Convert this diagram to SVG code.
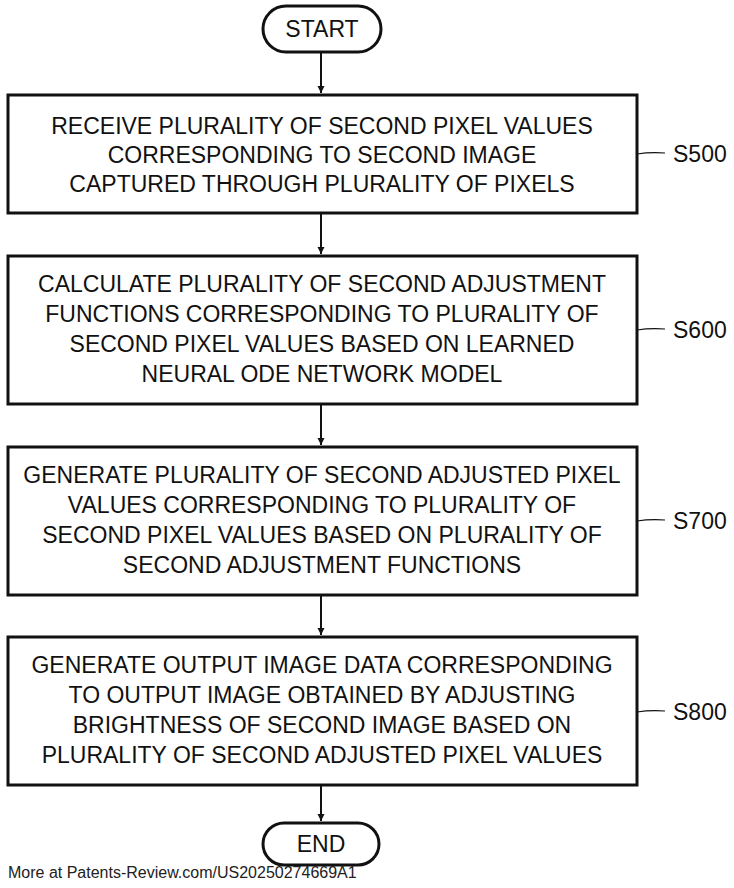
<svg xmlns="http://www.w3.org/2000/svg" width="734" height="888" viewBox="0 0 734 888">
<style>
.b{fill:#fff;stroke:#111;stroke-width:3}
.t{font-family:"Liberation Sans",Arial,sans-serif;font-size:23px;fill:#111;text-anchor:middle}
.l{font-family:"Liberation Sans",Arial,sans-serif;font-size:23px;fill:#111}
.c{stroke:#111;stroke-width:2;fill:none}
.k{stroke:#111;stroke-width:1.2;fill:none}
</style>
<defs><marker id="a" viewBox="0 0 10 10" refX="10" refY="5" markerWidth="7" markerHeight="9" orient="auto" markerUnits="userSpaceOnUse"><path d="M0,0 L10,5 L0,10 z" fill="#111"/></marker></defs>
<rect width="734" height="888" fill="#fff"/>
<g id="connectors">
<line class="c" x1="321" y1="52" x2="321" y2="93" marker-end="url(#a)"/>
<line class="c" x1="321" y1="213" x2="321" y2="254" marker-end="url(#a)"/>
<line class="c" x1="321" y1="404" x2="321" y2="445" marker-end="url(#a)"/>
<line class="c" x1="321" y1="595" x2="321" y2="635" marker-end="url(#a)"/>
<line class="c" x1="321" y1="785" x2="321" y2="821" marker-end="url(#a)"/>
</g>
<g id="start"><rect class="b" x="263" y="6" width="118" height="46" rx="23"/><text class="t" x="322" y="37">START</text></g>
<g id="s500"><rect class="b" x="8" y="95" width="629" height="118"/>
<text class="t" x="322" y="134">RECEIVE PLURALITY OF SECOND PIXEL VALUES</text>
<text class="t" x="322" y="163">CORRESPONDING TO SECOND IMAGE</text>
<text class="t" x="322" y="192">CAPTURED THROUGH PLURALITY OF PIXELS</text>
<path class="k" d="M637,154 Q650,152 665,153"/><text class="l" x="673" y="162">S500</text></g>
<g id="s600"><rect class="b" x="8" y="256" width="629" height="148"/>
<text class="t" x="322" y="292">CALCULATE PLURALITY OF SECOND ADJUSTMENT</text>
<text class="t" x="322" y="322">FUNCTIONS CORRESPONDING TO PLURALITY OF</text>
<text class="t" x="322" y="352">SECOND PIXEL VALUES BASED ON LEARNED</text>
<text class="t" x="322" y="382">NEURAL ODE NETWORK MODEL</text>
<path class="k" d="M637,330 Q650,328 665,329"/><text class="l" x="673" y="338">S600</text></g>
<g id="s700"><rect class="b" x="8" y="447" width="629" height="148"/>
<text class="t" x="322" y="483">GENERATE PLURALITY OF SECOND ADJUSTED PIXEL</text>
<text class="t" x="322" y="513">VALUES CORRESPONDING TO PLURALITY OF</text>
<text class="t" x="322" y="543">SECOND PIXEL VALUES BASED ON PLURALITY OF</text>
<text class="t" x="322" y="573">SECOND ADJUSTMENT FUNCTIONS</text>
<path class="k" d="M637,521 Q650,519 665,520"/><text class="l" x="673" y="529">S700</text></g>
<g id="s800"><rect class="b" x="8" y="637" width="629" height="148"/>
<text class="t" x="322" y="673">GENERATE OUTPUT IMAGE DATA CORRESPONDING</text>
<text class="t" x="322" y="703">TO OUTPUT IMAGE OBTAINED BY ADJUSTING</text>
<text class="t" x="322" y="733">BRIGHTNESS OF SECOND IMAGE BASED ON</text>
<text class="t" x="322" y="763">PLURALITY OF SECOND ADJUSTED PIXEL VALUES</text>
<path class="k" d="M637,712 Q650,710 665,711"/><text class="l" x="673" y="720">S800</text></g>
<g id="end"><rect class="b" x="263" y="823" width="116" height="42" rx="21"/><text class="t" x="321" y="852">END</text></g>
<text x="8" y="878" style="font-family:'Liberation Sans',Arial,sans-serif;font-size:16px;fill:#222">More at Patents-Review.com/US20250274669A1</text>
</svg>
